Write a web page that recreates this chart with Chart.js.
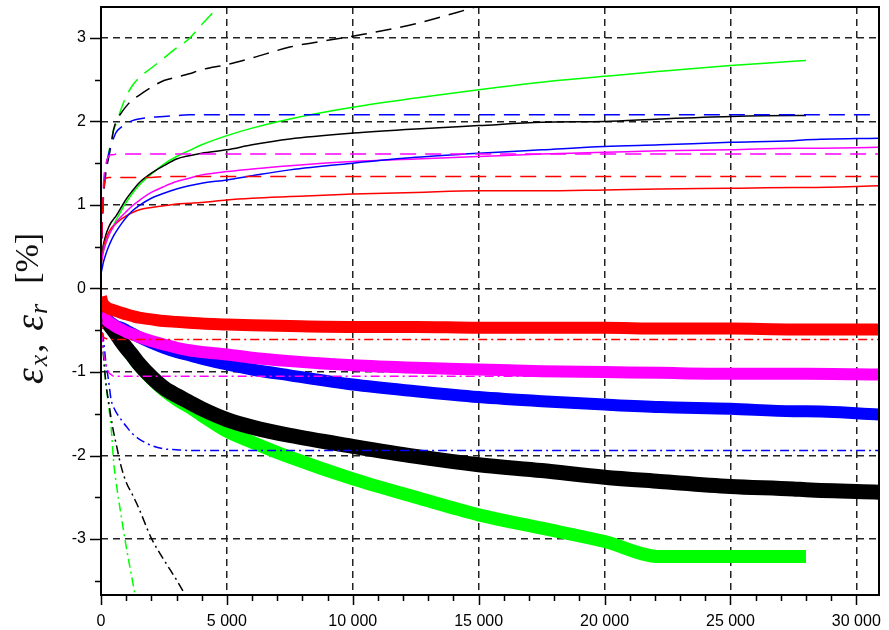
<!DOCTYPE html>
<html>
<head>
<meta charset="utf-8">
<script src="https://cdn.jsdelivr.net/npm/chart.js@4"></script>
<style>
html,body{margin:0;padding:0;background:#fff;}
#wrap{width:889px;height:630px;}
</style>
</head>
<body>
<div id="wrap"><canvas id="c" width="889" height="630"></canvas></div>
<script>
// ---- data ----
const T = [0,50,100,200,300,400,500,600,800,1000,1250,1500,2000,2500,3000,3500,4000,5000,6000,7500,10000,12500,15000,17500,20000,22200,25000,27500,28000,31000];

// thin solid (upper)
const redSolid     = [0.25,0.40,0.50,0.60,0.67,0.72,0.75,0.78,0.83,0.87,0.91,0.94,0.97,0.99,1.01,1.02,1.03,1.06,1.08,1.10,1.13,1.15,1.17,1.17,1.18,1.19,1.20,1.21,1.21,1.23];
const magentaSolid = [0.30,0.38,0.45,0.55,0.63,0.69,0.74,0.79,0.86,0.92,0.99,1.05,1.15,1.22,1.28,1.32,1.36,1.40,1.43,1.47,1.52,1.55,1.58,1.61,1.63,1.65,1.66,1.68,1.68,1.69];
const blueSolid    = [0.18,0.25,0.32,0.42,0.50,0.57,0.63,0.68,0.77,0.85,0.93,0.99,1.08,1.14,1.19,1.23,1.26,1.30,1.35,1.42,1.50,1.57,1.62,1.66,1.70,1.72,1.75,1.77,1.78,1.80];
const blackSolid   = [0.35,0.45,0.53,0.65,0.73,0.79,0.83,0.87,0.97,1.07,1.17,1.26,1.38,1.47,1.55,1.59,1.62,1.66,1.72,1.79,1.86,1.91,1.95,1.99,2.00,2.03,2.06,2.07,2.07,null];
const greenSolid   = [0.30,0.38,0.45,0.55,0.63,0.70,0.76,0.82,0.93,1.03,1.14,1.23,1.37,1.49,1.58,1.65,1.72,1.83,1.92,2.03,2.17,2.28,2.38,2.47,2.54,2.60,2.67,2.72,2.73,null];

// dashed (upper)
const redDashed     = [0.30,0.85,1.15,1.32,1.33,1.33,1.33,1.33,1.33,1.33,1.33,1.33,1.33,1.34,1.34,1.34,1.34,1.34,1.34,1.34,1.34,1.34,1.34,1.34,1.34,1.34,1.34,1.34,1.34,1.34];
const magentaDashed = [0.30,0.80,1.25,1.50,1.58,1.60,1.60,1.61,1.61,1.61,1.61,1.61,1.61,1.61,1.61,1.61,1.61,1.61,1.61,1.61,1.61,1.61,1.61,1.61,1.61,1.61,1.61,1.61,1.61,1.61];
const blueDashed    = [0.30,0.80,1.15,1.45,1.60,1.72,1.80,1.87,1.93,1.97,2.01,2.03,2.05,2.06,2.07,2.08,2.08,2.08,2.08,2.08,2.08,2.08,2.08,2.08,2.08,2.08,2.08,2.08,2.08,2.08];
const blackDashed   = [0.30,0.80,1.10,1.40,1.56,1.72,1.90,2.00,2.10,2.18,2.26,2.31,2.41,2.49,2.53,2.57,2.62,2.68,2.76,2.89,3.02,3.17,3.38,null,null,null,null,null,null,null];
const greenDashed   = [0.30,0.80,1.15,1.45,1.62,1.75,1.90,1.97,2.15,2.30,2.43,2.52,2.64,2.76,2.88,2.99,3.16,3.48,null,null,null,null,null,null,null,null,null,null,null,null];

// thick (lower)
const redThick     = [-0.10,-0.16,-0.19,-0.22,-0.24,-0.25,-0.26,-0.27,-0.29,-0.31,-0.33,-0.35,-0.37,-0.39,-0.40,-0.41,-0.42,-0.43,-0.44,-0.45,-0.46,-0.46,-0.47,-0.47,-0.47,-0.48,-0.48,-0.49,-0.49,-0.49];
const magentaThick = [-0.30,-0.32,-0.34,-0.37,-0.40,-0.42,-0.44,-0.46,-0.49,-0.52,-0.55,-0.58,-0.63,-0.67,-0.71,-0.74,-0.76,-0.79,-0.83,-0.87,-0.92,-0.95,-0.97,-0.99,-1.00,-1.01,-1.02,-1.02,-1.02,-1.03];
const blueThick    = [-0.30,-0.32,-0.34,-0.37,-0.39,-0.41,-0.43,-0.45,-0.47,-0.50,-0.54,-0.58,-0.65,-0.71,-0.76,-0.80,-0.84,-0.91,-0.97,-1.04,-1.15,-1.23,-1.30,-1.35,-1.39,-1.42,-1.44,-1.47,-1.47,-1.51];
const blackThick   = [-0.25,-0.30,-0.33,-0.38,-0.42,-0.46,-0.50,-0.54,-0.63,-0.71,-0.80,-0.90,-1.06,-1.19,-1.28,-1.36,-1.44,-1.57,-1.66,-1.76,-1.89,-2.01,-2.11,-2.18,-2.26,-2.31,-2.37,-2.40,-2.41,-2.44];
const greenThick   = [-0.25,-0.30,-0.33,-0.38,-0.42,-0.46,-0.50,-0.54,-0.63,-0.72,-0.82,-0.92,-1.08,-1.22,-1.33,-1.42,-1.52,-1.71,-1.84,-2.02,-2.28,-2.50,-2.71,-2.87,-3.03,-3.21,-3.21,-3.21,-3.21,null];

// dash-dot (lower)
const redDashDot     = [-0.30,-0.50,-0.58,-0.60,-0.61,-0.61,-0.61,-0.61,-0.61,-0.61,-0.61,-0.61,-0.61,-0.61,-0.61,-0.61,-0.61,-0.61,-0.61,-0.61,-0.61,-0.61,-0.61,-0.61,-0.61,-0.61,-0.61,-0.61,-0.61,-0.61];
const magentaDashDot = [-0.30,-0.60,-0.78,-0.92,-1.00,-1.03,-1.05,-1.05,-1.05,-1.05,-1.05,-1.05,-1.05,-1.05,-1.05,-1.05,-1.05,-1.05,-1.05,-1.05,-1.05,-1.05,-1.05,-1.05,-1.05,-1.05,-1.05,-1.05,-1.05,-1.05];
const blueDashDot    = [-0.30,-0.50,-0.62,-0.90,-1.10,-1.33,-1.42,-1.48,-1.57,-1.65,-1.74,-1.80,-1.88,-1.92,-1.93,-1.94,-1.94,-1.94,-1.94,-1.94,-1.94,-1.94,-1.94,-1.94,-1.94,-1.94,-1.94,-1.94,-1.94,-1.94];
const blackDashDot   = [-0.30,-0.55,-0.80,-1.15,-1.35,-1.55,-1.72,-1.86,-2.13,-2.32,-2.47,-2.63,-2.99,-3.25,-3.49,-3.75,null,null,null,null,null,null,null,null,null,null,null,null,null,null];
const greenDashDot   = [-0.30,-0.55,-0.80,-1.15,-1.40,-1.65,-2.07,-2.32,-2.72,-3.09,-3.50,-3.90,null,null,null,null,null,null,null,null,null,null,null,null,null,null,null,null,null,null];

// axes
const X_MIN = 0, X_MAX = 30900;
const Y_MIN = -3.67, Y_MAX = 3.37;
const X_TICKS = [0,5000,10000,15000,20000,25000,30000];
const Y_TICKS = [-3,-2,-1,0,1,2,3];
const X_MINOR_STEP = 1000;
const Y_MINOR_STEP = 0.5;

// ---- chart ----
const RED='#ff0000', MAG='#ff00ff', BLUE='#0000ff', BLACK='#000000', GREEN='#00ff00';
const DASH=[16,9], DASHDOT=[9,4,2,4];

function ds(label, arr, color, width, dash){
  return {
    label,
    data: T.map((x,i)=>({x, y: arr[i]})).filter(p=>p.y!==null),
    borderColor: color,
    backgroundColor: color,
    borderWidth: width,
    borderDash: dash || [],
    pointRadius: 0,
    fill: false,
    cubicInterpolationMode: 'monotone',
    borderCapStyle: 'butt',
    borderJoinStyle: 'round',
    clip: 0
  };
}

const datasets = [
  ds('red dash-dot', redDashDot, RED, 1.5, DASHDOT),
  ds('magenta dash-dot', magentaDashDot, MAG, 1.5, DASHDOT),
  ds('blue dash-dot', blueDashDot, BLUE, 1.5, DASHDOT),
  ds('black dash-dot', blackDashDot, BLACK, 1.5, DASHDOT),
  ds('green dash-dot', greenDashDot, GREEN, 1.5, DASHDOT),
  ds('red dashed', redDashed, RED, 1.5, DASH),
  ds('magenta dashed', magentaDashed, MAG, 1.5, DASH),
  ds('blue dashed', blueDashed, BLUE, 1.5, DASH),
  ds('black dashed', blackDashed, BLACK, 1.5, DASH),
  ds('green dashed', greenDashed, GREEN, 1.5, DASH),
  ds('blue solid', blueSolid, BLUE, 1.5),
  ds('magenta solid', magentaSolid, MAG, 1.5),
  ds('red solid', redSolid, RED, 1.5),
  ds('black solid', blackSolid, BLACK, 1.5),
  ds('green solid', greenSolid, GREEN, 1.5),
  ds('red thick', redThick, RED, 12),
  ds('magenta thick', magentaThick, MAG, 12),
  ds('blue thick', blueThick, BLUE, 12),
  ds('black thick', blackThick, BLACK, 15),
  ds('green thick', greenThick, GREEN, 13)
];

function fmtThousands(v){
  return String(v).replace(/\B(?=(\d{3})+(?!\d))/g, ' ');
}

function zeroPadding(s){
  s.paddingTop = 0; s.paddingBottom = 0; s.paddingLeft = 0; s.paddingRight = 0;
}

const decor = {
  id: 'decor',
  afterDraw(chart){
    const {ctx, chartArea: a, scales: {x, y}} = chart;
    ctx.save();
    ctx.strokeStyle = '#000';
    ctx.lineWidth = 1.5;
    ctx.setLineDash([]);
    ctx.beginPath();
    for (let v = X_MIN; v <= X_MAX; v += X_MINOR_STEP){
      const px = Math.round(x.getPixelForValue(v)) + 0.5;
      const major = X_TICKS.includes(v);
      ctx.moveTo(px, a.bottom);
      ctx.lineTo(px, a.bottom + (major ? 10 : 6));
    }
    for (let k = Math.ceil(Y_MIN / Y_MINOR_STEP); k * Y_MINOR_STEP <= Y_MAX; k++){
      const v = k * Y_MINOR_STEP;
      const py = Math.round(y.getPixelForValue(v)) + 0.5;
      const major = Number.isInteger(v);
      ctx.moveTo(a.left, py);
      ctx.lineTo(a.left - (major ? 11 : 6), py);
    }
    ctx.stroke();
    ctx.lineWidth = 2;
    ctx.strokeRect(a.left, a.top, a.right - a.left, a.bottom - a.top);

    // y-axis title: εx, εr [%]
    ctx.fillStyle = '#111';
    ctx.translate(43, 384);
    ctx.rotate(-Math.PI / 2);
    ctx.textBaseline = 'alphabetic';
    ctx.textAlign = 'left';
    const SERIF = '"Liberation Serif", "DejaVu Serif", serif';
    const pieces = [
      {t:'ε', f:'italic 40px ' + SERIF, dy:0, gap:0},
      {t:'x', f:'italic 26px ' + SERIF, dy:4, gap:2},
      {t:',', f:'36px ' + SERIF, dy:0, gap:2},
      {t:'ε', f:'italic 40px ' + SERIF, dy:0, gap:13},
      {t:'r', f:'italic 26px ' + SERIF, dy:4, gap:1},
      {t:'[', f:'34px ' + SERIF, dy:-5, gap:20},
      {t:'%', f:'34px ' + SERIF, dy:-5, gap:0},
      {t:']', f:'34px ' + SERIF, dy:-5, gap:0}
    ];
    let cx = 0;
    for (const p of pieces){
      cx += p.gap;
      ctx.font = p.f;
      ctx.fillText(p.t, cx, p.dy);
      cx += ctx.measureText(p.t).width;
    }
    ctx.restore();
  }
};

const gridCommon = {
  color: '#222',
  lineWidth: 1.5,
  drawTicks: false
};

new Chart(document.getElementById('c'), {
  type: 'line',
  data: { datasets },
  options: {
    responsive: false,
    animation: false,
    events: [],
    layout: { autoPadding: false, padding: { left: 0, right: 10, top: 7, bottom: 0 } },
    plugins: { legend: { display: false }, tooltip: { enabled: false }, title: { display: false } },
    scales: {
      x: {
        type: 'linear',
        min: X_MIN, max: X_MAX,
        z: 1,
        border: { display: false, dash: [7,5] },
        grid: Object.assign({}, gridCommon),
        ticks: {
          color: '#000',
          font: { family: '"Liberation Sans", Arial, sans-serif', size: 16 },
          padding: 17,
          maxRotation: 0,
          autoSkip: false,
          callback: (v) => fmtThousands(v)
        },
        afterBuildTicks: (s) => { s.ticks = X_TICKS.map(v => ({ value: v })); },
        afterFit: (s) => { s.height = 35; zeroPadding(s); }
      },
      y: {
        type: 'linear',
        min: Y_MIN, max: Y_MAX,
        z: 1,
        border: { display: false, dash: [7,5] },
        grid: Object.assign({}, gridCommon),
        ticks: {
          color: '#000',
          font: { family: '"Liberation Sans", Arial, sans-serif', size: 16 },
          padding: 15,
          autoSkip: false,
          callback: (v) => String(v)
        },
        afterBuildTicks: (s) => { s.ticks = Y_TICKS.map(v => ({ value: v })); },
        afterFit: (s) => { s.width = 101; zeroPadding(s); }
      }
    }
  },
  plugins: [decor]
});
</script>
</body>
</html>
